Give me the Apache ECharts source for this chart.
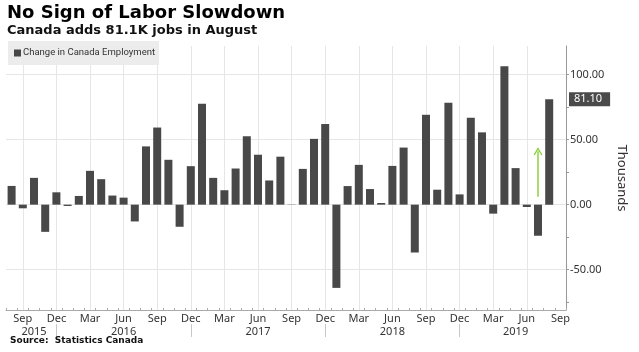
<!DOCTYPE html>
<html>
<head>
<meta charset="utf-8">
<script src="https://cdn.jsdelivr.net/npm/echarts@6/dist/echarts.min.js"></script>
<style>
	html, body { margin: 0; padding: 0; background: #fff; }
	#chart { width: 639px; height: 352px; }
</style>
</head>
<body>
<div id="chart"></div>
<script>
// monthly change in Canada employment, thousands
var months = [
	'Aug 2015', 'Sep 2015', 'Oct 2015', 'Nov 2015', 'Dec 2015',
	'Jan 2016', 'Feb 2016', 'Mar 2016', 'Apr 2016', 'May 2016', 'Jun 2016',
	'Jul 2016', 'Aug 2016', 'Sep 2016', 'Oct 2016', 'Nov 2016', 'Dec 2016',
	'Jan 2017', 'Feb 2017', 'Mar 2017', 'Apr 2017', 'May 2017', 'Jun 2017',
	'Jul 2017', 'Aug 2017', 'Sep 2017', 'Oct 2017', 'Nov 2017', 'Dec 2017',
	'Jan 2018', 'Feb 2018', 'Mar 2018', 'Apr 2018', 'May 2018', 'Jun 2018',
	'Jul 2018', 'Aug 2018', 'Sep 2018', 'Oct 2018', 'Nov 2018', 'Dec 2018',
	'Jan 2019', 'Feb 2019', 'Mar 2019', 'Apr 2019', 'May 2019', 'Jun 2019',
	'Jul 2019', 'Aug 2019', 'Sep 2019'
];
var employmentChange = [
	14.4, -2.8, 20.6, -20.9, 9.5,
	-1.0, 6.7, 26.0, 19.6, 7.0, 5.4,
	-12.9, 44.8, 59.3, 34.5, -17.0, 29.6,
	77.6, 20.6, 11.1, 27.8, 52.6, 38.4,
	18.6, 36.9, 0.2, 27.5, 50.6, 62.0,
	-64.0, 14.3, 30.6, 12.0, 1.3, 29.8,
	43.9, -36.8, 69.1, 11.5, 78.3, 7.9,
	66.8, 55.6, -6.9, 106.4, 28.1, -1.8,
	-23.9, 81.1
];
var quarterMonths = ['Mar', 'Jun', 'Sep', 'Dec'];
var yTicks = [-50, 0, 50, 100];
var yMinorTicks = [-75, -25, 25, 75];
var latestValue = 81.1;
var arrowMonth = 'Jul 2019';
var arrowFrom = 6;
var arrowTo = 41;

var font = "'Noto Sans', sans-serif";

// year label position = middle of that year's months, separator after each December
var yearNames = [];
var yearCenters = [];
var yearBreaks = [];
var quarterIdx = [];
(function() {
	var firstIdx = {}, lastIdx = {};
	months.forEach(function(m, i) {
		var y = m.split(' ')[1];
		if (!(y in firstIdx)) {
			firstIdx[y] = i;
			yearNames.push(y);
		}
		lastIdx[y] = i;
		if (m.indexOf('Dec') === 0) yearBreaks.push(i);
		if (quarterMonths.indexOf(m.split(' ')[0]) >= 0 && i < months.length - 1) quarterIdx.push(i);
	});
	yearNames.forEach(function(y) {
		yearCenters.push(Math.floor((firstIdx[y] + lastIdx[y]) / 2));
	});
})();

var chevron = 'path://M0,9 L5,0 L10,9 L8.6,9.8 L5,3 L1.4,9.8 Z';

var myChart = echarts.init(document.getElementById('chart'));
myChart.setOption({
	animation: false,
	backgroundColor: '#fff',
	title: [{
		left: 7,
		top: 4,
		text: 'No Sign of Labor Slowdown',
		subtext: 'Canada adds 81.1K jobs in August',
		itemGap: 2,
		padding: 0,
		textStyle: { fontFamily: 'DejaVu Sans', fontWeight: 'bold', fontSize: 18, color: '#000' },
		subtextStyle: { fontFamily: 'DejaVu Sans', fontWeight: 'bold', fontSize: 13, color: '#111' }
	}, {
		left: 10,
		top: 336,
		padding: 0,
		text: 'Source:  Statistics Canada',
		textStyle: { fontFamily: 'DejaVu Sans', fontWeight: 'bold', fontSize: 9, color: '#111' }
	}],
	legend: {
		left: 8,
		top: 41,
		padding: [7, 4, 7, 6],
		backgroundColor: '#ececec',
		icon: 'rect',
		itemWidth: 7,
		itemHeight: 7,
		textStyle: { fontFamily: 'Roboto', fontSize: 9.5, color: '#333', padding: [0, 0, 0, -3] },
		data: ['Change in Canada Employment']
	},
	grid: { left: 6, right: 73, top: 46, bottom: 42 },
	xAxis: [{
		type: 'category',
		data: months,
		boundaryGap: true,
		axisLine: { onZero: false, lineStyle: { color: '#aaa' } },
		axisTick: { show: true, inside: true, length: 2, interval: 0, lineStyle: { color: '#aaa' } },
		axisLabel: {
			interval: function(i, v) { return quarterMonths.indexOf(v.split(' ')[0]) >= 0; },
			formatter: function(v) { return v.split(' ')[0]; },
			margin: 3,
			fontFamily: font,
			fontSize: 11,
			color: '#333'
		},
		splitLine: { show: false }
	}, {
		// year row
		type: 'value',
		position: 'bottom',
		offset: 14,
		min: -0.5,
		max: months.length - 0.5,
		axisLine: { show: false, onZero: false },
		axisTick: { show: true, customValues: yearBreaks, length: 13, lineStyle: { color: '#c8c8c8' } },
		axisLabel: {
			customValues: yearCenters,
			formatter: function(v) { return yearNames[yearCenters.indexOf(Math.round(v))] || ''; },
			margin: 2,
			fontFamily: font,
			fontSize: 11,
			color: '#333'
		},
		splitLine: { show: false }
	}, {
		// quarterly vertical grid lines
		type: 'value',
		position: 'top',
		min: -0.5,
		max: months.length - 0.5,
		axisLine: { show: false, onZero: false },
		axisTick: { show: false, customValues: quarterIdx },
		axisLabel: { show: false },
		splitLine: { show: true, lineStyle: { color: '#e6e6e6' } }
	}],
	yAxis: [{
		type: 'value',
		position: 'right',
		min: -81,
		max: 122,
		name: 'Thousands',
		nameLocation: 'middle',
		nameRotate: -90,
		nameGap: 47,
		nameTextStyle: { fontFamily: font, fontSize: 13, color: '#333' },
		axisLine: { show: true, onZero: false, lineStyle: { color: '#999' } },
		axisTick: { show: true, customValues: yTicks, length: 3, lineStyle: { color: '#999' } },
		axisLabel: {
			customValues: yTicks,
			formatter: function(v) { return v.toFixed(2); },
			margin: 4,
			fontFamily: font,
			fontSize: 11,
			color: '#333'
		},
		splitLine: { show: true, lineStyle: { color: '#e6e6e6' } }
	}, {
		// minor ticks
		type: 'value',
		position: 'right',
		min: -81,
		max: 122,
		axisLine: { show: false, onZero: false },
		axisTick: { show: true, customValues: yMinorTicks, length: 3, lineStyle: { color: '#999' } },
		axisLabel: { show: false },
		splitLine: { show: false }
	}],
	series: [{
		name: 'Change in Canada Employment',
		type: 'bar',
		xAxisIndex: 0,
		yAxisIndex: 0,
		data: employmentChange,
		barWidth: 8,
		itemStyle: { color: '#484848' },
		markLine: {
			silent: true,
			symbol: ['none', 'none'],
			data: [
				{
					yAxis: latestValue,
					lineStyle: { color: 'rgba(0,0,0,0)', width: 0 },
					label: {
						show: true,
						position: 'end',
						distance: 3,
						formatter: latestValue.toFixed(2),
						backgroundColor: '#4a4a4a',
						color: '#fff',
						padding: [2, 8, 1, 5],
						fontFamily: font,
						fontSize: 11
					}
				},
				[
					{ coord: [arrowMonth, arrowFrom], symbol: 'none' },
					{ coord: [arrowMonth, arrowTo], symbol: chevron, symbolSize: [9, 8] }
				]
			],
			lineStyle: { color: '#8ccf3c', width: 1.5, type: 'solid' },
			label: { show: false }
		}
	}]
});
</script>
</body>
</html>
